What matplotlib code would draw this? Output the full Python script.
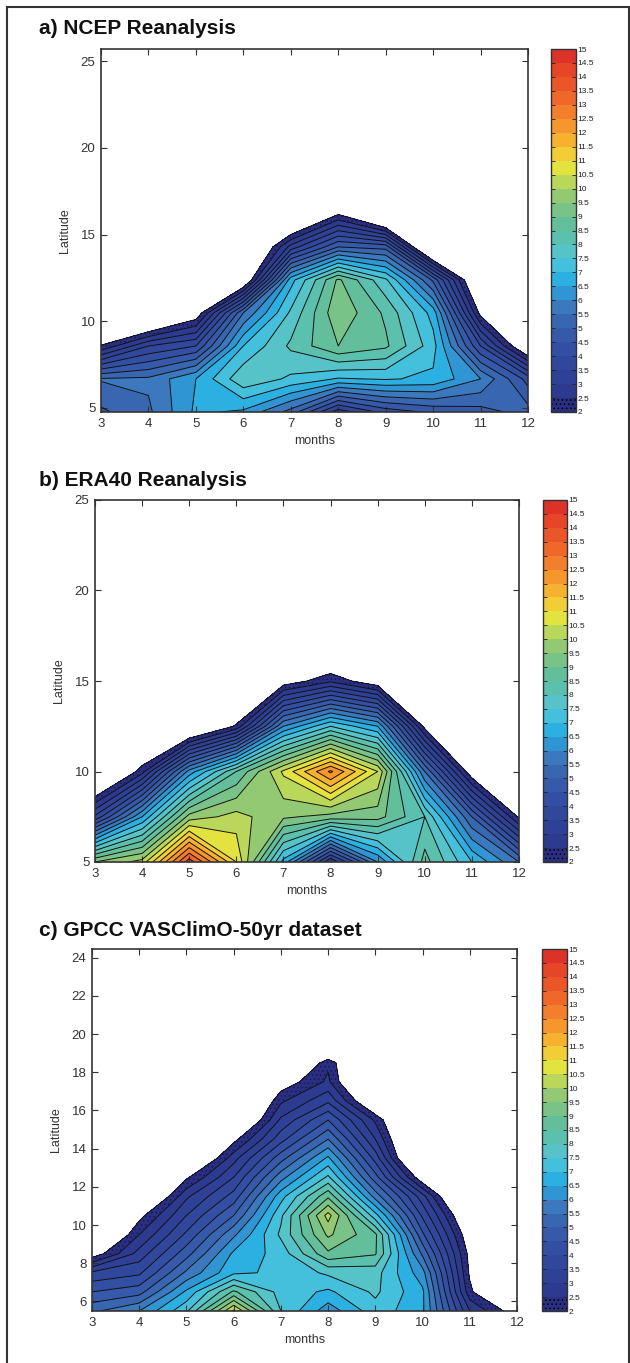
import numpy as np
import matplotlib.pyplot as plt
from matplotlib.colors import ListedColormap, BoundaryNorm
from matplotlib.patches import Rectangle
from matplotlib.ticker import FixedLocator, FixedFormatter

plt.rcParams['font.family'] = ['Liberation Sans', 'DejaVu Sans']
plt.rcParams['hatch.color'] = '#15185a'
plt.rcParams['hatch.linewidth'] = 0.6

months = [3, 4, 5, 6, 7, 8, 9, 10, 11, 12]

# NCEP latitudes (gaussian grid), rows of values per latitude
ncep_lat = [4.76, 6.67, 8.57, 10.48, 12.38, 14.29, 16.19, 18.10, 20.00, 21.90, 23.81, 25.71]
ncep_rain = [
    [4.9, 5.4, 6.6, 6.4, 5.3, 3.2, 4.2, 4.6, 4.8, 5.2],
    [5.55, 5.6, 6.5, 7.9, 7.4, 6.95, 7.05, 6.9, 6.0, 4.3],
    [2.05, 3.5, 4.0, 7.0, 8.1, 9.0, 8.6, 7.2, 4.0, 1.0],
    [0, 0, 1.5, 5.5, 7.6, 9.4, 8.4, 6.8, 1.8, 0],
    [0, 0, 0, 1.0, 6.8, 9.1, 7.6, 4.9, 0.5, 0],
    [0, 0, 0, 0, 3.2, 5.0, 4.8, 0, 0, 0],
    [0, 0, 0, 0, 0, 1.95, 0, 0, 0, 0],
    [0] * 10,
    [0] * 10,
    [0] * 10,
    [0] * 10,
    [0] * 10,
]

# ERA40 latitudes (2.5 deg)
era_lat = [5, 7.5, 10, 12.5, 15, 17.5, 20, 22.5, 25]
era_rain = [
    [9.5, 10.2, 13.8, 11.0, 6.8, 3.0, 6.0, 8.7, 7.0, 5.5],
    [3.6, 6.5, 9.7, 10.2, 9.6, 9.3, 9.2, 8.0, 5.0, 1.9],
    [0, 2.3, 6.2, 8.5, 10.6, 12.6, 10.5, 5.5, 1.5, 0],
    [0, 0, 0.5, 2.1, 6.0, 7.5, 6.5, 1.8, 0, 0],
    [0, 0, 0, 0, 1.6, 2.4, 1.5, 0, 0, 0],
    [0] * 10,
    [0] * 10,
    [0] * 10,
    [0] * 10,
]

# GPCC VASClimO latitudes (1 deg)
gpcc_lat = [5.5, 6.5, 7.5, 8.5, 9.5, 10.5, 11.5, 12.5, 13.5, 14.5, 15.5, 16.5,
            17.5, 18.5, 19.5, 20.5, 21.5, 22.5, 23.5, 24.5]
gpcc_rain = [
    [5.4, 6.0, 7.4, 10.6, 7.5, 6.2, 7.3, 6.6, 3.0, 1.6],
    [4.5, 4.8, 6.6, 8.6, 7.3, 6.9, 7.6, 6.6, 2.15, 0],
    [3.6, 3.9, 5.6, 6.9, 7.1, 7.6, 7.7, 6.2, 1.9, 0],
    [1.6, 3.2, 4.8, 6.6, 7.2, 8.9, 8.55, 5.4, 1.8, 0],
    [0.3, 2.5, 4.1, 5.9, 7.6, 9.6, 8.6, 4.6, 1.5, 0],
    [0, 1.8, 3.5, 5.0, 7.4, 10.2, 7.2, 3.9, 1.0, 0],
    [0, 0.5, 2.9, 4.2, 6.8, 8.9, 5.8, 3.2, 0, 0],
    [0, 0, 1.9, 3.5, 5.8, 7.6, 4.7, 1.5, 0, 0],
    [0, 0, 0.5, 2.8, 4.8, 6.6, 3.8, 0, 0, 0],
    [0, 0, 0, 1.8, 3.8, 5.5, 3.0, 0, 0, 0],
    [0, 0, 0, 0.5, 3.1, 4.5, 2.4, 0, 0, 0],
    [0, 0, 0, 0, 2.4, 3.4, 1.0, 0, 0, 0],
    [0, 0, 0, 0, 1.6, 2.6, 0, 0, 0, 0],
    [0, 0, 0, 0, 0, 2.4, 0, 0, 0, 0],
    [0] * 10,
    [0] * 10,
    [0] * 10,
    [0] * 10,
    [0] * 10,
    [0] * 10,
]

levels = np.arange(2, 15.01, 0.5)
level_labels = ['%g' % v for v in levels]
band_colors = [
    '#2b2f82', '#2c3a8f', '#2e4196', '#30479c', '#334fa3', '#3659a9',
    '#3966b0', '#3b78bd', '#2f96d3', '#2cb0e2', '#45c0dc', '#55c3c7',
    '#5bc0ad', '#63bf9b', '#79c388', '#93c973', '#b9d75b', '#e2e33f',
    '#f1cd36', '#f6b22f', '#f6972d', '#f37e2b', '#ef682a', '#eb5628',
    '#e74527', '#dc3228',
]
cmap = ListedColormap(band_colors)
hatches = ['....'] + [None] * (len(levels) - 2)

W, H = 630, 1363
fig = plt.figure(figsize=(W / 100, H / 100), dpi=100)


def px_box(x0, y0, x1, y1):
    # pixel box (top-left origin) -> figure fraction rect
    return [x0 / W, 1 - y1 / H, (x1 - x0) / W, (y1 - y0) / H]


def panel(title, title_y, ax_box, cb_box, lat, rain, ylim, yticks):
    ax = fig.add_axes(px_box(*ax_box))
    cax = fig.add_axes(px_box(*cb_box))
    X, Y = np.meshgrid(months, lat)
    Z = np.array(rain, dtype=float)
    # own norm per panel, a shared one resets the other colorbars' ticks
    norm = BoundaryNorm(levels, cmap.N)
    cf = ax.contourf(X, Y, Z, levels=levels, cmap=cmap, norm=norm, hatches=hatches)
    ax.contour(X, Y, Z, levels=levels, colors='#111111', linewidths=0.7)
    ax.set_xlim(3, 12)
    ax.set_ylim(*ylim)
    ax.set_xticks(months)
    ax.set_yticks(yticks)
    ax.tick_params(direction='in', top=True, right=True, length=4, width=0.8,
                   labelsize=9.5, colors='#333333', pad=4)
    for s in ax.spines.values():
        s.set_color('#333333')
        s.set_linewidth(1.2)
    w = ax_box[2] - ax_box[0]
    h = ax_box[3] - ax_box[1]
    ax.set_xlabel('months', fontsize=9, color='#333333', va='center')
    ax.xaxis.set_label_coords(0.5, -29 / h)
    ax.set_ylabel('Latitude', fontsize=9, color='#333333', va='center')
    ax.yaxis.set_label_coords(-36 / w, 0.5)

    cb = fig.colorbar(cf, cax=cax)
    cb.ax.yaxis.set_major_locator(FixedLocator(levels))
    cb.ax.yaxis.set_major_formatter(FixedFormatter(level_labels))
    cb.ax.tick_params(direction='in', left=True, right=True, length=3, width=0.6,
                      labelsize=6, pad=1, colors='#222222')
    cb.outline.set_edgecolor('#333333')
    cb.outline.set_linewidth(1.0)

    fig.text(39 / W, 1 - title_y / H, title, fontsize=15, fontweight='bold',
             va='center', ha='left', color='#111111')


panel('a) NCEP Reanalysis', 28, (101, 49, 528, 412), (551, 49, 576, 412),
      ncep_lat, ncep_rain, (4.76, 25.71), [5, 10, 15, 20, 25])
panel('b) ERA40 Reanalysis', 481, (95, 500, 519, 862), (543, 500, 567, 862),
      era_lat, era_rain, (5, 25), [5, 10, 15, 20, 25])
panel('c) GPCC VASClimO-50yr dataset', 930, (92, 949, 517, 1311), (542, 949, 567, 1311),
      gpcc_lat, gpcc_rain, (5.5, 24.45), [6, 8, 10, 12, 14, 16, 18, 20, 22, 24])

# outer frame
fig.add_artist(Rectangle((7 / W, -0.01), 622 / W, 1.01 - 7 / H, transform=fig.transFigure,
                         fill=False, edgecolor='#333333', linewidth=1.5))

fig.savefig('out.png', dpi=100)
